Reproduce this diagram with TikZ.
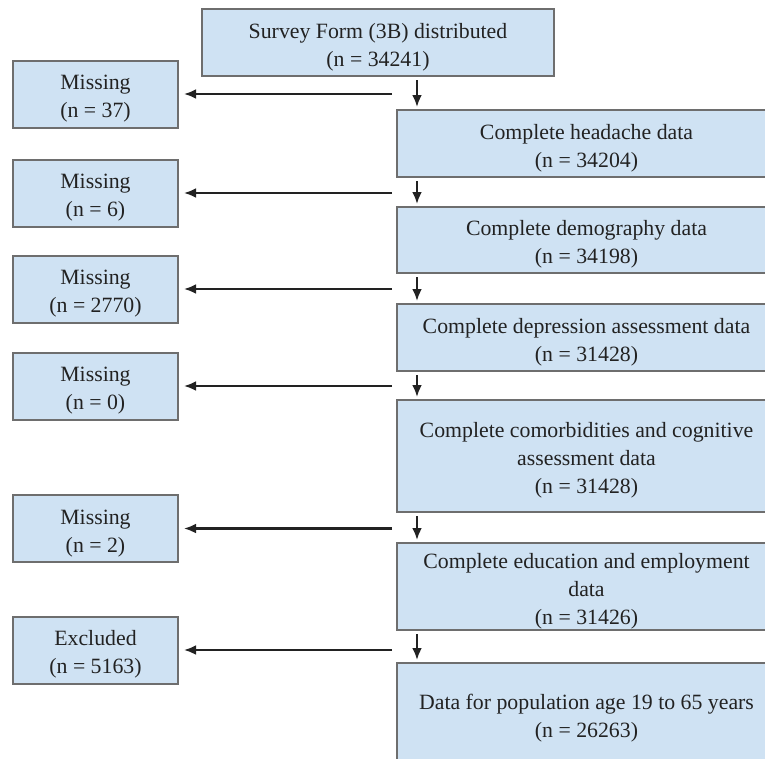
\documentclass[tikz,border=0pt]{standalone}
\usepackage{fontspec}
\setmainfont{Liberation Serif}
\usetikzlibrary{arrows.meta}
\definecolor{boxfill}{HTML}{CFE2F3}
\definecolor{boxline}{HTML}{6E6E6E}
\definecolor{ink}{HTML}{222222}
\newcommand\tstrut{\rule{0pt}{24pt}}

\begin{document}
\begin{tikzpicture}[x=1pt,y=-1pt,>={Latex[length=12pt,width=10pt]},
    box/.style={draw=boxline,fill=boxfill,line width=2pt,align=center,inner sep=0pt,
        text=ink,font=\fontsize{21.8}{28}\selectfont},
    main/.style={box,minimum width=379pt},
    side/.style={box,minimum width=165pt,minimum height=67pt},
    flow/.style={->,line width=2.6pt,draw=ink}]
    \useasboundingbox (0,0) rectangle (765,758);

    % flow column
    \node[box,minimum width=352pt,minimum height=67pt](survey) at (378,42.5) {\tstrut Survey Form (3B) distributed\\(n = 34241)};
    \node[main,minimum height=67pt](head) at (586.5,143.5) {\tstrut Complete headache data\\(n = 34204)};
    \node[main,minimum height=66pt](demo) at (586.5,240) {\tstrut Complete demography data\\(n = 34198)};
    \node[main,minimum height=67pt](depr) at (586.5,337.5) {\tstrut Complete depression assessment data\\(n = 31428)};
    \node[main,minimum height=112pt](comorb) at (586.5,456) {\tstrut Complete comorbidities and cognitive\\assessment data\\(n = 31428)};
    \node[main,minimum height=87pt](edu) at (586.5,586.5) {\tstrut Complete education and employment\\data\\(n = 31426)};
    \node[main,minimum height=102pt](pop) at (586.5,714) {\tstrut Data for population age 19 to 65 years\\(n = 26263)};

    % side boxes
    \node[side](miss1) at (95.5,94) {\tstrut Missing\\(n = 37)};
    \node[side](miss2) at (95.5,193) {\tstrut Missing\\(n = 6)};
    \node[side](miss3) at (95.5,289) {\tstrut Missing\\(n = 2770)};
    \node[side](miss4) at (95.5,386) {\tstrut Missing\\(n = 0)};
    \node[side](miss5) at (95.5,528.5) {\tstrut Missing\\(n = 2)};
    \node[side](excl) at (95.5,650) {\tstrut Excluded\\(n = 5163)};

    \coordinate(spine) at (417,0);
    \coordinate(tap) at (392,0);

    \foreach \k/\l in {survey/head, head/demo, demo/depr, depr/comorb, comorb/edu, edu/pop}{
        \draw[flow,shorten <=3pt,shorten >=2pt](\k.south -| spine)--(\l.north -| spine);
    }
    \foreach \k in {miss1, miss2, miss3, miss4, miss5, excl}{
        \draw[flow,shorten >=5pt](tap |- \k.east)--(\k.east);
    }
\end{tikzpicture}
\end{document}
